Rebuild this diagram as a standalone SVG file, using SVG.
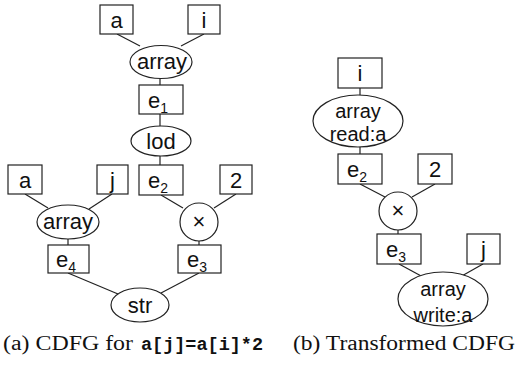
<svg xmlns="http://www.w3.org/2000/svg" width="519" height="372" viewBox="0 0 519 372">
  <style>
    .shape { fill: #ffffff; stroke: #222222; stroke-width: 1.2; }
    .edge { stroke: #222222; stroke-width: 1.2; fill: none; }
    .lbl { font-family: "Liberation Sans", Arial, sans-serif; font-size: 22px; fill: #111111; text-anchor: middle; }
    .lbl2 { font-family: "Liberation Sans", Arial, sans-serif; font-size: 20px; fill: #111111; text-anchor: middle; }
    .sub { font-size: 14px; }
    .cap { font-family: "Liberation Serif", "Times New Roman", serif; font-size: 20px; fill: #111111; }
    .tt { font-family: "Liberation Mono", "Courier New", monospace; font-size: 18px; font-weight: bold; }
  </style>
  <rect width="519" height="372" fill="#ffffff"/>

  <!-- connectors -->
  <g id="edges" class="edge">
    <line x1="117" y1="34" x2="140" y2="46"/>
    <line x1="204" y1="34" x2="181" y2="46"/>
    <line x1="160" y1="78" x2="160" y2="85"/>
    <line x1="160" y1="114" x2="160" y2="126"/>
    <line x1="160" y1="156" x2="160" y2="165"/>
    <line x1="25" y1="194" x2="48" y2="208"/>
    <line x1="112" y1="194" x2="89" y2="209"/>
    <line x1="161" y1="195" x2="183" y2="208"/>
    <line x1="236" y1="194" x2="214" y2="208"/>
    <line x1="68" y1="239" x2="68" y2="245"/>
    <line x1="199" y1="241" x2="199" y2="245"/>
    <line x1="68" y1="273" x2="118" y2="294"/>
    <line x1="199" y1="273" x2="161" y2="293"/>

    <line x1="360" y1="88" x2="360" y2="95"/>
    <line x1="360" y1="147" x2="360" y2="154"/>
    <line x1="360" y1="184" x2="385" y2="197"/>
    <line x1="435" y1="184" x2="412" y2="197"/>
    <line x1="398" y1="230" x2="398" y2="234"/>
    <line x1="399" y1="264" x2="423" y2="277"/>
    <line x1="483" y1="264" x2="460" y2="277"/>
  </g>

  <!-- (a) CDFG for a[j]=a[i]*2 -->
  <g id="a-top">
    <rect class="shape" x="100" y="5" width="33" height="29"/>
    <text class="lbl" x="116.5" y="28">a</text>
  </g>
  <g id="i-top">
    <rect class="shape" x="188" y="5" width="32" height="29"/>
    <text class="lbl" x="204" y="28">i</text>
  </g>
  <g id="array-read">
    <ellipse class="shape" cx="161" cy="62" rx="31" ry="16.5"/>
    <text class="lbl" x="162" y="69">array</text>
  </g>
  <g id="e1">
    <rect class="shape" x="139" y="85" width="44" height="29"/>
    <text class="lbl" x="158" y="108">e<tspan class="sub" dy="5">1</tspan></text>
  </g>
  <g id="lod">
    <ellipse class="shape" cx="161" cy="141" rx="30" ry="15"/>
    <text class="lbl" x="161" y="149">lod</text>
  </g>
  <g id="a-left">
    <rect class="shape" x="8" y="165" width="34" height="29"/>
    <text class="lbl" x="25" y="188">a</text>
  </g>
  <g id="j-left">
    <rect class="shape" x="97" y="165" width="31" height="29"/>
    <text class="lbl" x="112.5" y="188">j</text>
  </g>
  <g id="e2">
    <rect class="shape" x="139" y="165" width="44" height="30"/>
    <text class="lbl" x="158" y="188">e<tspan class="sub" dy="5">2</tspan></text>
  </g>
  <g id="two">
    <rect class="shape" x="220" y="165" width="32" height="29"/>
    <text class="lbl" x="236" y="188">2</text>
  </g>
  <g id="array-write">
    <ellipse class="shape" cx="68" cy="222" rx="31" ry="17"/>
    <text class="lbl" x="68" y="229">array</text>
  </g>
  <g id="mul">
    <circle class="shape" cx="199" cy="222" r="19"/>
    <text class="lbl" x="199" y="229">×</text>
  </g>
  <g id="e4">
    <rect class="shape" x="48" y="245" width="41" height="28"/>
    <text class="lbl" x="66" y="267">e<tspan class="sub" dy="5">4</tspan></text>
  </g>
  <g id="e3">
    <rect class="shape" x="178" y="245" width="43" height="28"/>
    <text class="lbl" x="197" y="267">e<tspan class="sub" dy="5">3</tspan></text>
  </g>
  <g id="str">
    <ellipse class="shape" cx="140" cy="305" rx="29" ry="17"/>
    <text class="lbl" x="140" y="313">str</text>
  </g>

  <!-- (b) Transformed CDFG -->
  <g id="b-i">
    <rect class="shape" x="338" y="58" width="44" height="30"/>
    <text class="lbl" x="360" y="81">i</text>
  </g>
  <g id="b-read">
    <ellipse class="shape" cx="358" cy="121" rx="45" ry="26"/>
    <text class="lbl2" x="358" y="118">array</text>
    <text class="lbl2" x="358" y="141">read:a</text>
  </g>
  <g id="b-e2">
    <rect class="shape" x="338" y="154" width="44" height="30"/>
    <text class="lbl" x="357" y="177">e<tspan class="sub" dy="5">2</tspan></text>
  </g>
  <g id="b-two">
    <rect class="shape" x="418" y="154" width="34" height="30"/>
    <text class="lbl" x="435" y="177">2</text>
  </g>
  <g id="b-mul">
    <circle class="shape" cx="398" cy="211" r="19"/>
    <text class="lbl" x="398" y="218">×</text>
  </g>
  <g id="b-e3">
    <rect class="shape" x="377" y="234" width="44" height="30"/>
    <text class="lbl" x="396" y="257">e<tspan class="sub" dy="5">3</tspan></text>
  </g>
  <g id="b-j">
    <rect class="shape" x="467" y="234" width="33" height="30"/>
    <text class="lbl" x="483.5" y="257">j</text>
  </g>
  <g id="b-write">
    <ellipse class="shape" cx="443" cy="299" rx="45" ry="27"/>
    <text class="lbl2" x="443" y="296">array</text>
    <text class="lbl2" x="443" y="322">write:a</text>
  </g>

  <!-- captions -->
  <text class="cap" x="3" y="350" textLength="130" lengthAdjust="spacingAndGlyphs">(a) CDFG for</text>
  <text class="cap tt" x="141" y="350" textLength="122" lengthAdjust="spacingAndGlyphs">a[j]=a[i]*2</text>
  <text class="cap" x="293" y="350" textLength="222" lengthAdjust="spacingAndGlyphs">(b) Transformed CDFG</text>
</svg>
